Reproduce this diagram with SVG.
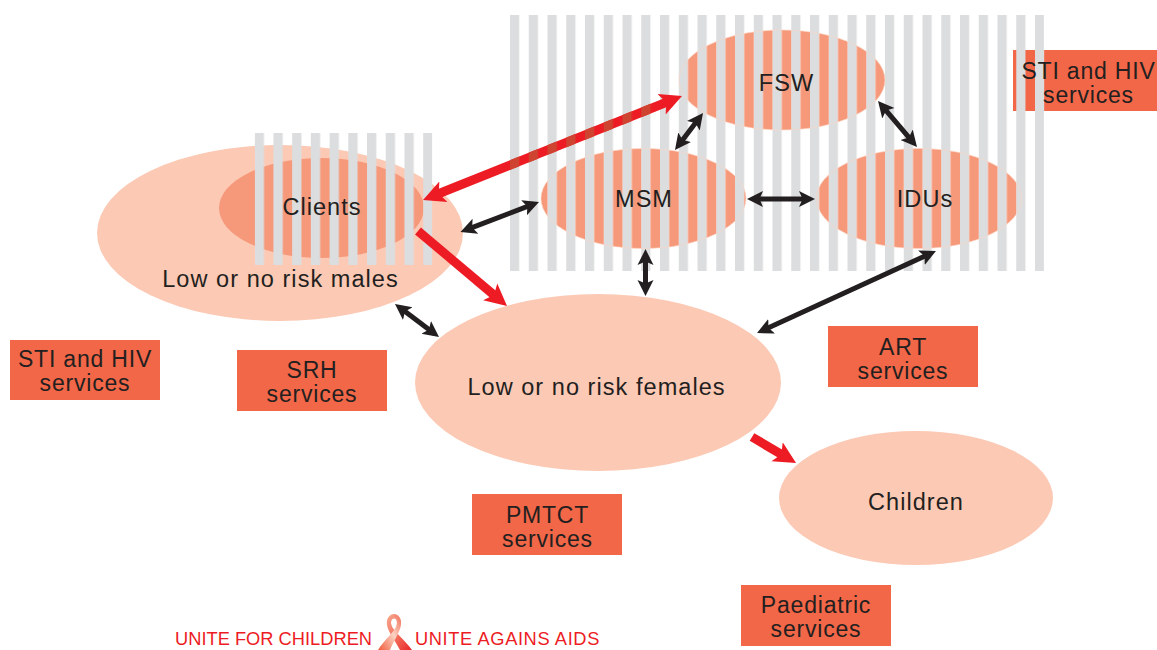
<svg xmlns="http://www.w3.org/2000/svg" width="1157" height="650" viewBox="0 0 1157 650">
<style>
text{font-family:"Liberation Sans",Arial,sans-serif;font-size:23.5px;letter-spacing:1.05px;fill:#231f20;text-anchor:middle}
.bt{font-size:23px;letter-spacing:.8px}
.peach{fill:#fcc9b4}
.stripe{fill:#dcddde}
.risk{fill:url(#orangeStripes);stroke:#fbd5c5;stroke-width:.6}
.box{fill:#f26747}
.blk{stroke:#231f20;stroke-width:5;fill:none;marker-start:url(#bh);marker-end:url(#bh)}
.red{stroke:#ed1c24;stroke-width:9;fill:none}
.tag{font-size:18.3px;letter-spacing:0;fill:#ed1c24;text-anchor:start}
</style>
<defs>
<pattern id="orangeStripes" patternUnits="userSpaceOnUse" x="510" y="0" width="18.75" height="20"><rect x="9.2" width="9.55" height="20" fill="#f6997b"/></pattern>
<pattern id="greyStripes" patternUnits="userSpaceOnUse" x="510" y="0" width="18.75" height="20"><rect width="9.2" height="20" fill="#dcddde"/></pattern>
<pattern id="greyStripesL" patternUnits="userSpaceOnUse" x="254.7" y="0" width="18.72" height="20"><rect width="9.3" height="20" fill="#dcddde"/></pattern>
<pattern id="darkStripes" patternUnits="userSpaceOnUse" x="510" y="0" width="18.75" height="20"><rect width="9.2" height="20" fill="#cf4430"/></pattern>
<marker id="bh" markerUnits="userSpaceOnUse" markerWidth="20" markerHeight="20" refX="10" refY="10" orient="auto-start-reverse"><path d="M0 2L16 10L0 18L3.5 10Z" fill="#231f20"/></marker>
<marker id="rh" markerUnits="userSpaceOnUse" markerWidth="26" markerHeight="26" refX="8" refY="13" orient="auto-start-reverse"><path d="M0 2L22 13L0 24L5 13Z" fill="#ed1c24"/></marker>
<clipPath id="redShaft"><path d="M667.3 97L670.7 105.4L437.7 199L434.3 190.6Z"/></clipPath>
<linearGradient id="ribL" x1="0" y1="1" x2="1" y2="0"><stop offset="0" stop-color="#f05a3c"/><stop offset=".55" stop-color="#fbd2c2"/><stop offset="1" stop-color="#ef6a52"/></linearGradient>
<linearGradient id="ribR" x1="1" y1="1" x2="0" y2="0"><stop offset="0" stop-color="#e8262a"/><stop offset=".5" stop-color="#f3705c"/><stop offset="1" stop-color="#f7a890"/></linearGradient>
</defs>

<g id="stripes-high-risk"><rect x="510" y="15" width="534" height="256" fill="url(#greyStripes)"/></g>

<g id="node-males"><ellipse class="peach" cx="280" cy="233" rx="183" ry="88"/><text x="280.5" y="287">Low or no risk males</text></g>
<g id="node-clients">
<ellipse cx="321.5" cy="208" rx="102.5" ry="50" fill="#f6997b"/>
<rect x="254.7" y="133" width="177.5" height="132" fill="url(#greyStripesL)"/>
<text x="322" y="215">Clients</text>
</g>
<g id="node-fsw"><ellipse class="risk" cx="782" cy="80" rx="103" ry="50"/><text x="786.5" y="91">FSW</text></g>
<g id="node-msm"><ellipse class="risk" cx="643.5" cy="198.5" rx="102.5" ry="50"/><text x="644" y="207">MSM</text></g>
<g id="node-idus"><ellipse class="risk" cx="919" cy="198.5" rx="102.5" ry="50"/><text x="925" y="207">IDUs</text></g>
<g id="node-females"><ellipse class="peach" cx="598" cy="382.5" rx="183" ry="88.5"/><text x="596.5" y="395">Low or no risk females</text></g>
<g id="node-children"><ellipse class="peach" cx="916" cy="498" rx="137" ry="67"/><text x="916" y="510">Children</text></g>

<g id="box-sti-top"><rect class="box" x="1013" y="50" width="144" height="61"/><rect class="stripe" x="1016.25" y="50" width="9.2" height="61"/><rect class="stripe" x="1035" y="50" width="9.2" height="61"/><text class="bt" x="1088.5" y="79">STI and HIV</text><text class="bt" x="1088.5" y="103">services</text></g>
<g id="box-sti-left"><rect class="box" x="10" y="340" width="150" height="60"/><text class="bt" x="85" y="367">STI and HIV</text><text class="bt" x="85" y="391">services</text></g>
<g id="box-srh"><rect class="box" x="237" y="350" width="150" height="61"/><text class="bt" x="312" y="378">SRH</text><text class="bt" x="312" y="402">services</text></g>
<g id="box-art"><rect class="box" x="828" y="326" width="150" height="61"/><text class="bt" x="903" y="355">ART</text><text class="bt" x="903" y="379">services</text></g>
<g id="box-pmtct"><rect class="box" x="472" y="494" width="150" height="61"/><text class="bt" x="547.5" y="523">PMTCT</text><text class="bt" x="547.5" y="547">services</text></g>
<g id="box-paediatric"><rect class="box" x="741" y="585" width="150" height="61"/><text class="bt" x="816" y="613">Paediatric</text><text class="bt" x="816" y="637">services</text></g>

<g id="connectors">
<line class="blk" x1="466.1" y1="229.9" x2="533.4" y2="204.1"/>
<line class="blk" x1="399.8" y1="307.6" x2="434.2" y2="333.4"/>
<line class="blk" x1="699.4" y1="117.8" x2="678.6" y2="145.2"/>
<line class="blk" x1="881.9" y1="105.6" x2="913.1" y2="142.4"/>
<line class="blk" x1="753" y1="199" x2="809" y2="199"/>
<line class="blk" x1="645.5" y1="255" x2="645.5" y2="290"/>
<line class="blk" x1="930.5" y1="253.5" x2="762.5" y2="330.5"/>
<line class="red" x1="669" y1="101.2" x2="436" y2="194.8" marker-start="url(#rh)" marker-end="url(#rh)"/>
<rect x="510" y="90" width="150" height="80" fill="url(#darkStripes)" clip-path="url(#redShaft)"/>
<line class="red" x1="418" y1="231" x2="496.3" y2="297" marker-end="url(#rh)"/>
<line class="red" x1="752" y1="437" x2="784" y2="455.9" marker-end="url(#rh)"/>
</g>

<g id="footer">
<text class="tag" x="175" y="645">UNITE FOR CHILDREN</text>
<path d="M412 650L400 650C396 642 388 632 387 625C386 618 390 614 394 614L394 618.5C391.5 618.5 390.5 622 391.5 625C393 631 405 640 412 650Z" fill="url(#ribR)"/>
<path d="M378 650C384 640 395.5 631 396.5 625C397.5 622 396.5 618.5 394 618.5L394 614C398 614 402 618 401 625C400 632 393 642 390 650Z" fill="url(#ribL)"/>
<text class="tag" x="415" y="645" style="letter-spacing:.6px">UNITE AGAINS AIDS</text>
</g>
</svg>
